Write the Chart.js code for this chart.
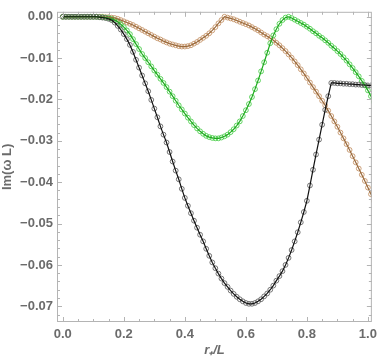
<!DOCTYPE html>
<html>
<head>
<meta charset="utf-8">
<script src="https://cdn.jsdelivr.net/npm/chart.js@4"></script>
<style>
  body { margin: 0; background: #fff; }
  canvas { display: block; }
</style>
</head>
<body>
<canvas id="chart" width="382" height="358"></canvas>
<script>
// r+/L values where the curves are read (step 0.01)
var rVals = [0.00,0.01,0.02,0.03,0.04,0.05,0.06,0.07,0.08,0.09,
  0.10,0.11,0.12,0.13,0.14,0.15,0.16,0.17,0.18,0.19,
  0.20,0.21,0.22,0.23,0.24,0.25,0.26,0.27,0.28,0.29,
  0.30,0.31,0.32,0.33,0.34,0.35,0.36,0.37,0.38,0.39,
  0.40,0.41,0.42,0.43,0.44,0.45,0.46,0.47,0.48,0.49,
  0.50,0.51,0.52,0.53,0.54,0.55,0.56,0.57,0.58,0.59,
  0.60,0.61,0.62,0.63,0.64,0.65,0.66,0.67,0.68,0.69,
  0.70,0.71,0.72,0.73,0.74,0.75,0.76,0.77,0.78,0.79,
  0.80,0.81,0.82,0.83,0.84,0.85,0.86,0.87,0.88,0.89,
  0.90,0.91,0.92,0.93,0.94,0.95,0.96,0.97,0.98,0.99,
  1.00,1.01,1.02];

// Im(w L) for each mode
var blackVals = [0,0,0,0,0,0,0,0,0,0,
  0,0,-0.0001,-0.0002,-0.0003,-0.0005,-0.0008,-0.0014,-0.0022,-0.0031,
  -0.0042,-0.0054,-0.0068,-0.0085,-0.0104,-0.0123,-0.0142,-0.0161,-0.0180,-0.0201,
  -0.0222,-0.0243,-0.0265,-0.0285,-0.0304,-0.0327,-0.0350,-0.0372,-0.0393,-0.0416,
  -0.0438,-0.0457,-0.0475,-0.0493,-0.0510,-0.0527,-0.0543,-0.0561,-0.0578,-0.0594,
  -0.0608,-0.0621,-0.0633,-0.0644,-0.0653,-0.0662,-0.0670,-0.0677,-0.0683,-0.0688,
  -0.0692,-0.0694,-0.0694,-0.0692,-0.0688,-0.0683,-0.0676,-0.0669,-0.0660,-0.0650,
  -0.0638,-0.0627,-0.0615,-0.0600,-0.0583,-0.0564,-0.0543,-0.0521,-0.0497,-0.0472,
  -0.0445,-0.0408,-0.0370,-0.0333,-0.0297,-0.0261,-0.0225,-0.0192,-0.0160,-0.0160,
  -0.0161,-0.0161,-0.0162,-0.0162,-0.0163,-0.0163,-0.0164,-0.0164,-0.0165,-0.0165,
  -0.0166,-0.0166,-0.0166];
var brownVals = [0,0,0,0,0,0,0,0,0,0,
  0,0,0,0,-0.0001,-0.0001,-0.0002,-0.0003,-0.0005,-0.0008,
  -0.0011,-0.0014,-0.0017,-0.0020,-0.0024,-0.0028,-0.0032,-0.0036,-0.0040,-0.0044,
  -0.0048,-0.0052,-0.0055,-0.0059,-0.0062,-0.0065,-0.0067,-0.0069,-0.0071,-0.0072,
  -0.0072,-0.0071,-0.0069,-0.0065,-0.0061,-0.0056,-0.0051,-0.0046,-0.0040,-0.0033,
  -0.0025,-0.0016,-0.0008,0.0000,-0.0002,-0.0004,-0.0006,-0.0009,-0.0012,-0.0015,
  -0.0018,-0.0021,-0.0025,-0.0029,-0.0033,-0.0038,-0.0043,-0.0047,-0.0052,-0.0057,
  -0.0063,-0.0069,-0.0076,-0.0083,-0.0091,-0.0099,-0.0108,-0.0117,-0.0127,-0.0137,
  -0.0148,-0.0159,-0.0170,-0.0181,-0.0192,-0.0203,-0.0214,-0.0227,-0.0240,-0.0253,
  -0.0266,-0.0280,-0.0294,-0.0308,-0.0322,-0.0337,-0.0352,-0.0367,-0.0382,-0.0397,
  -0.0413,-0.0429,-0.0445];
var greenVals = [0,0,0,0,0,0,0,0,0,0,
  0,0,-0.0001,-0.0001,-0.0002,-0.0003,-0.0005,-0.0008,-0.0012,-0.0018,
  -0.0025,-0.0033,-0.0042,-0.0054,-0.0066,-0.0078,-0.0090,-0.0100,-0.0110,-0.0120,
  -0.0130,-0.0140,-0.0150,-0.0160,-0.0170,-0.0181,-0.0192,-0.0203,-0.0214,-0.0224,
  -0.0234,-0.0244,-0.0253,-0.0262,-0.0270,-0.0277,-0.0283,-0.0288,-0.0291,-0.0293,
  -0.0294,-0.0294,-0.0292,-0.0289,-0.0285,-0.0279,-0.0272,-0.0263,-0.0253,-0.0240,
  -0.0226,-0.0211,-0.0194,-0.0175,-0.0154,-0.0132,-0.0110,-0.0087,-0.0064,-0.0045,
  -0.0030,-0.0017,-0.0008,-0.0002,0.0000,-0.0003,-0.0007,-0.0011,-0.0015,-0.0019,
  -0.0024,-0.0029,-0.0035,-0.0040,-0.0046,-0.0051,-0.0057,-0.0063,-0.0070,-0.0076,
  -0.0083,-0.0090,-0.0098,-0.0106,-0.0115,-0.0124,-0.0134,-0.0144,-0.0155,-0.0166,
  -0.0178,-0.0192,-0.0206];

// tick labels
var xTicks = [0.0,0.2,0.4,0.6,0.8,1.0];
var yTicks = [0.00,-0.01,-0.02,-0.03,-0.04,-0.05,-0.06,-0.07];

var labelColor = '#6b6b6b';
var frameColor = '#b4b4b4';

function pts(vals){
  return rVals.map(function(r, i){ return {x: r, y: vals[i]}; });
}

function lineSet(vals, color){
  return {
    data: pts(vals), showLine: true, borderColor: color, borderWidth: 1.2,
    pointRadius: 0, fill: false, tension: 0, order: 1
  };
}

function circleSet(vals, color){
  return {
    data: pts(vals), showLine: false, pointStyle: 'circle',
    pointRadius: 2.4, pointBorderWidth: 1, pointBorderColor: color,
    pointBackgroundColor: 'rgba(0,0,0,0)', order: 2
  };
}

// frame on all four sides with inward ticks
var framePlugin = {
  id: 'frame',
  afterDatasetsDraw: function(chart){
    var ctx = chart.ctx, a = chart.chartArea;
    var xs = chart.scales.x, ys = chart.scales.y;
    ctx.save();
    ctx.strokeStyle = frameColor;
    ctx.lineWidth = 1;
    ctx.strokeRect(a.left + 0.5, a.top + 0.5, a.right - a.left - 1, a.bottom - a.top - 1);
    ctx.beginPath();
    for (var i = 0; i <= 20; i++) {
      var xv = i * 0.05;
      var len = (i % 4 === 0) ? 5 : 3;
      var px = Math.round(xs.getPixelForValue(xv)) + 0.5;
      ctx.moveTo(px, a.bottom); ctx.lineTo(px, a.bottom - len);
      ctx.moveTo(px, a.top); ctx.lineTo(px, a.top + len);
    }
    for (var j = 0; j <= 36; j++) {
      var yv = -j * 0.002;
      var len2 = (j % 5 === 0) ? 5 : 3;
      var py = Math.round(ys.getPixelForValue(yv)) + 0.5;
      ctx.moveTo(a.left, py); ctx.lineTo(a.left + len2, py);
      ctx.moveTo(a.right, py); ctx.lineTo(a.right - len2, py);
    }
    ctx.stroke();
    ctx.restore();
  }
};

new Chart(document.getElementById('chart'), {
  type: 'scatter',
  data: {
    datasets: [
      lineSet(blackVals, '#111111'),
      lineSet(greenVals, '#1faa1f'),
      lineSet(brownVals, '#9a6a3c'),
      circleSet(blackVals, 'rgba(95,95,95,0.85)'),
      circleSet(greenVals, 'rgba(70,205,70,0.85)'),
      circleSet(brownVals, 'rgba(195,145,100,0.85)')
    ]
  },
  options: {
    responsive: false,
    animation: false,
    layout: { padding: { top: 1, right: 5, left: 0, bottom: 0 } },
    plugins: { legend: { display: false }, tooltip: { enabled: false } },
    scales: {
      x: {
        type: 'linear', min: -0.019, max: 1.013,
        afterBuildTicks: function(s){ s.ticks = xTicks.map(function(v){ return {value: v}; }); },
        afterFit: function(s){ s.height = 36; },
        grid: { display: false, drawTicks: false },
        border: { display: false },
        ticks: {
          padding: 5, color: labelColor, maxRotation: 0,
          font: { family: 'Liberation Sans', size: 13, weight: 'bold' },
          callback: function(v){ return v.toFixed(1); }
        },
        title: {
          display: true, text: 'r\u208A/L', color: labelColor, padding: 0,
          font: { family: 'Liberation Sans', size: 13, weight: 'bold', style: 'italic' }
        }
      },
      y: {
        type: 'linear', min: -0.0738, max: 0.0012,
        afterBuildTicks: function(s){ s.ticks = yTicks.map(function(v){ return {value: v}; }); },
        afterFit: function(s){ s.width = 57; },
        grid: { display: false, drawTicks: false },
        border: { display: false },
        ticks: {
          padding: 4, color: labelColor,
          font: { family: 'Liberation Sans', size: 13, weight: 'bold' },
          callback: function(v){ return v === 0 ? '0.00' : '\u2212' + Math.abs(v).toFixed(2); }
        },
        title: {
          display: true, text: 'Im(\u03C9 L)', color: labelColor, padding: 0,
          font: { family: 'Liberation Sans', size: 13, weight: 'bold' }
        }
      }
    }
  },
  plugins: [framePlugin]
});
</script>
</body>
</html>
